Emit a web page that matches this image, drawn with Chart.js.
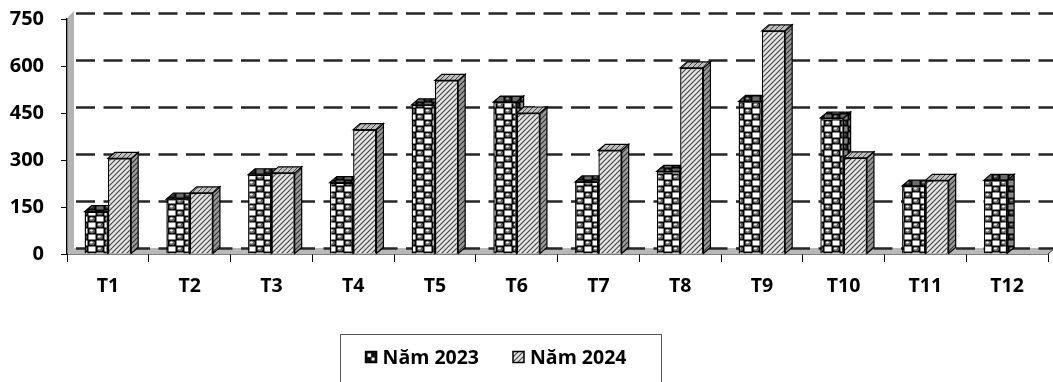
<!DOCTYPE html>
<html>
<head>
<meta charset="utf-8">
<script src="https://cdn.jsdelivr.net/npm/chart.js@4.4.1/dist/chart.umd.min.js"></script>
<style>
  html, body { margin: 0; padding: 0; background: #fff; }
  #wrap { width: 1053px; height: 382px; position: relative; }
</style>
</head>
<body>
<div id="wrap"><canvas id="c" width="1053" height="382"></canvas></div>
<script>
// Monthly figures, 2023 vs 2024
const categories = ['T1', 'T2', 'T3', 'T4', 'T5', 'T6', 'T7', 'T8', 'T9', 'T10', 'T11', 'T12'];
const values2023 = [135, 175, 253, 228, 476, 485, 230, 264, 487, 434, 217, 235];
const values2024 = [305, 195, 259, 397, 554, 450, 331, 594, 712, 307, 235, null];
const seriesNames = ['Năm 2023', 'Năm 2024'];
const yTicks = [0, 150, 300, 450, 600, 750];

const FONT = '"Open Sans", "Liberation Sans", sans-serif';
const DEPTH_X = 7, DEPTH_Y = -6;

function makeTile(w, h, paint) {
  const c = document.createElement('canvas');
  c.width = w; c.height = h;
  paint(c.getContext('2d'), w, h);
  return c;
}

// checkerboard of light squares and shaded balls on black
function checkerTile(sq, ball, hi) {
  const cw = 8, ch = 6;
  return makeTile(cw * 2, ch * 2, (g) => {
    g.fillStyle = '#000'; g.fillRect(0, 0, cw * 2, ch * 2);
    g.fillStyle = sq;
    g.fillRect(0.5, 0.5, cw - 1, ch - 1);
    g.fillRect(cw + 0.5, ch + 0.5, cw - 1, ch - 1);
    [[cw * 1.5, ch * 0.5], [cw * 0.5, ch * 1.5]].forEach(([cx, cy]) => {
      g.fillStyle = ball;
      g.beginPath(); g.ellipse(cx, cy, 3, 2.3, 0, 0, Math.PI * 2); g.fill();
      g.fillStyle = hi;
      g.beginPath(); g.ellipse(cx - 0.6, cy - 0.5, 1.5, 1.1, 0, 0, Math.PI * 2); g.fill();
    });
  });
}

// diagonal hatch rising to the right
function hatchTile(bg, line, lw) {
  return makeTile(5, 5, (g) => {
    g.fillStyle = bg; g.fillRect(0, 0, 5, 5);
    g.strokeStyle = line; g.lineWidth = lw;
    g.beginPath();
    g.moveTo(-1, 6); g.lineTo(6, -1);
    g.moveTo(-1, 1); g.lineTo(1, -1);
    g.moveTo(4, 6); g.lineTo(6, 4);
    g.stroke();
  });
}

const ctx = document.getElementById('c').getContext('2d');
const pat = (tile) => ctx.createPattern(tile, 'repeat');

const fills = {
  front: [pat(checkerTile('#fff', '#666', '#f2f2f2')), pat(hatchTile('#e4e4e4', '#444', 1.1))],
  side:  [pat(checkerTile('#8a8a8a', '#333', '#999')), pat(hatchTile('#9a9a9a', '#333', 1.1))],
  top:   [pat(checkerTile('#6a6a6a', '#2a2a2a', '#999')), pat(hatchTile('#bdbdbd', '#444', 1.0))]
};

const depthPlugin = {
  id: 'depth',
  beforeDatasetsDraw(chart) {
    const g = chart.ctx;
    const area = chart.chartArea;
    const ys = chart.scales.y;
    g.save();

    // left wall
    g.fillStyle = '#b4b4b4';
    g.beginPath();
    g.moveTo(area.left + 1, area.top - 2);
    g.lineTo(area.left + DEPTH_X, area.top - 2 + DEPTH_Y);
    g.lineTo(area.left + DEPTH_X, area.bottom + DEPTH_Y);
    g.lineTo(area.left + 1, area.bottom);
    g.closePath();
    g.fill();

    // floor
    g.fillStyle = '#b8b8b8';
    g.beginPath();
    g.moveTo(area.left, area.bottom);
    g.lineTo(area.right, area.bottom);
    g.lineTo(area.right + DEPTH_X, area.bottom + DEPTH_Y);
    g.lineTo(area.left + DEPTH_X, area.bottom + DEPTH_Y);
    g.closePath();
    g.fill();
    g.strokeStyle = '#333';
    g.lineWidth = 1;
    g.beginPath();
    g.moveTo(area.right, area.bottom);
    g.lineTo(area.right + DEPTH_X, area.bottom + DEPTH_Y);
    g.stroke();

    // dashed gridlines on the back plane
    g.strokeStyle = '#262626';
    g.lineWidth = 2.6;
    g.setLineDash([19, 8.5]);
    yTicks.forEach((v) => {
      const y = Math.round(ys.getPixelForValue(v) + DEPTH_Y) + 0.5;
      g.beginPath();
      g.moveTo(area.left + DEPTH_X + 2, y);
      g.lineTo(chart.width, y);
      g.stroke();
    });
    g.setLineDash([]);

    // side and top faces of each column
    chart.data.datasets.forEach((ds, di) => {
      const meta = chart.getDatasetMeta(di);
      meta.data.forEach((bar, i) => {
        if (ds.data[i] == null) return;
        const p = bar.getProps(['x', 'y', 'base', 'width'], true);
        const x0 = p.x - p.width / 2, x1 = p.x + p.width / 2;
        const top = p.y, base = p.base;
        g.lineWidth = 1.2;
        g.strokeStyle = '#000';
        // right side
        g.fillStyle = fills.side[di];
        g.beginPath();
        g.moveTo(x1, top);
        g.lineTo(x1 + DEPTH_X, top + DEPTH_Y);
        g.lineTo(x1 + DEPTH_X, base + DEPTH_Y);
        g.lineTo(x1, base);
        g.closePath();
        g.fill(); g.stroke();
        // top cap
        g.fillStyle = fills.top[di];
        g.beginPath();
        g.moveTo(x0, top);
        g.lineTo(x0 + DEPTH_X, top + DEPTH_Y);
        g.lineTo(x1 + DEPTH_X, top + DEPTH_Y);
        g.lineTo(x1, top);
        g.closePath();
        g.fill(); g.stroke();
      });
    });
    g.restore();
  },
  afterDraw(chart) {
    // legend box
    const g = chart.ctx;
    g.save();
    const box = { x: 340.5, y: 334.5, w: 321, h: 60 };
    g.strokeStyle = '#555';
    g.lineWidth = 1;
    g.strokeRect(box.x, box.y, box.w, box.h);
    g.font = 'bold 19.5px ' + FONT;
    g.textBaseline = 'middle';
    g.fillStyle = '#000';
    const mk = 11, gap = 6, spacing = 34;
    const widths = chart.data.datasets.map((d) => g.measureText(d.label).width);
    const total = widths.reduce((a, w) => a + mk + gap + w, 0) + spacing;
    let x = 496 - total / 2;
    const cy = 357;
    const legendFill = [
      (lx, ly) => { g.fillStyle = '#111'; g.fillRect(lx, ly, mk, mk); g.fillStyle = '#fff'; g.fillRect(lx + 2, ly + 2, 3.5, 3.5); g.fillRect(lx + 6, ly + 6, 3, 3); },
      (lx, ly) => { g.fillStyle = fills.front[1]; g.fillRect(lx, ly, mk, mk); }
    ];
    chart.data.datasets.forEach((d, di) => {
      legendFill[di](x, cy - mk / 2);
      g.strokeStyle = '#000';
      g.lineWidth = 1.5;
      g.strokeRect(x, cy - mk / 2, mk, mk);
      g.fillStyle = '#000';
      g.fillText(d.label, x + mk + gap, cy + 1);
      x += mk + gap + widths[di] + spacing;
    });
    g.restore();
  }
};

new Chart(ctx, {
  type: 'bar',
  data: {
    labels: categories,
    datasets: [
      { label: seriesNames[0], data: values2023, backgroundColor: fills.front[0], borderColor: '#000', borderWidth: 1.4 },
      { label: seriesNames[1], data: values2024, backgroundColor: fills.front[1], borderColor: '#000', borderWidth: 1.4 }
    ]
  },
  options: {
    responsive: false,
    animation: false,
    events: [],
    layout: { padding: { top: 19, right: 5, left: 0, bottom: 0 } },
    datasets: { bar: { categoryPercentage: 0.57, barPercentage: 1.0 } },
    plugins: { legend: { display: false }, tooltip: { enabled: false } },
    scales: {
      x: {
        afterFit(s) { s.height = 128; s.paddingLeft = 0; s.paddingRight = 0; },
        grid: { display: true, drawOnChartArea: false, drawTicks: true, tickLength: 8, color: '#000', offset: true },
        border: { display: true, color: '#000', width: 1.5 },
        ticks: { color: '#000', padding: 13, font: { family: FONT, size: 19.5, weight: 'bold' } }
      },
      y: {
        min: 0, max: 750,
        afterFit(s) { s.width = 67; s.paddingTop = 0; s.paddingBottom = 0; },
        afterBuildTicks(s) { s.ticks = yTicks.map((v) => ({ value: v })); },
        grid: { display: true, drawOnChartArea: false, drawTicks: true, tickLength: 6, color: '#000' },
        border: { display: true, color: '#000', width: 1.5 },
        ticks: { color: '#000', padding: 17, font: { family: FONT, size: 20, weight: 'bold' } }
      }
    }
  },
  plugins: [depthPlugin]
});
</script>
</body>
</html>
